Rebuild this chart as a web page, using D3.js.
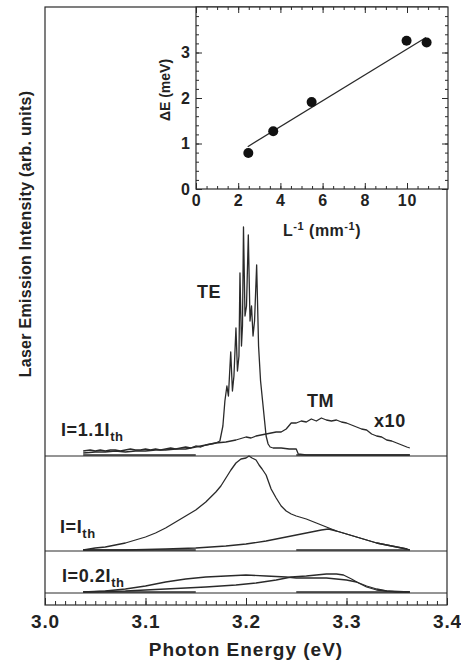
<!DOCTYPE html>
<html>
<head>
<meta charset="utf-8">
<script src="https://cdn.jsdelivr.net/npm/d3@7"></script>
<style>
  body { margin: 0; background: #fff; }
  svg text { font-family: 'Liberation Sans', Arial, sans-serif; font-weight: bold; fill: #222; }
</style>
</head>
<body>
<div id="chart"></div>
<script>
// ---- main panel data: [photon energy (eV), intensity above the trace's own zero] ----
const te11 = [
  [3.038, 5], [3.045, 6], [3.050, 5], [3.055, 6], [3.060, 5], [3.065, 6], [3.070, 6],
  [3.075, 5], [3.080, 6], [3.085, 7], [3.090, 6], [3.095, 6], [3.100, 7], [3.105, 6],
  [3.110, 7], [3.115, 6], [3.120, 7], [3.125, 8], [3.130, 7], [3.135, 8], [3.140, 9],
  [3.145, 8], [3.150, 10], [3.155, 9], [3.160, 11], [3.165, 12], [3.170, 13], [3.174, 15],
  [3.177, 30], [3.179, 55], [3.181, 70], [3.1825, 60], [3.1848, 104], [3.1865, 65],
  [3.188, 80], [3.190, 128], [3.1915, 85], [3.193, 100], [3.194, 183], [3.1955, 110],
  [3.1965, 130], [3.1975, 229], [3.199, 140], [3.2005, 150], [3.2023, 221], [3.204, 135],
  [3.2055, 150], [3.207, 120], [3.2085, 135], [3.2106, 191], [3.2125, 110], [3.2145, 75],
  [3.2165, 55], [3.2185, 35], [3.220, 20], [3.222, 12], [3.224, 9], [3.227, 8],
  [3.235, 8], [3.243, 7], [3.250, 7], [3.252, 2], [3.260, 1], [3.300, 1], [3.363, 1],
];
const tm11 = [
  [3.038, 3], [3.050, 4], [3.060, 4], [3.070, 5], [3.080, 4], [3.090, 5], [3.100, 5],
  [3.110, 6], [3.120, 6], [3.130, 7], [3.140, 7], [3.150, 9], [3.160, 11], [3.170, 13],
  [3.180, 14], [3.190, 16], [3.200, 19], [3.205, 18], [3.210, 20], [3.215, 21], [3.220, 22],
  [3.225, 23], [3.230, 24], [3.235, 24], [3.240, 27], [3.245, 33], [3.250, 33], [3.255, 35],
  [3.260, 34], [3.265, 37], [3.270, 35], [3.275, 38], [3.280, 36], [3.285, 35], [3.290, 36],
  [3.295, 34], [3.300, 33], [3.305, 31], [3.310, 29], [3.315, 27], [3.320, 26], [3.325, 22],
  [3.330, 20], [3.335, 19], [3.340, 16], [3.345, 15], [3.350, 13], [3.355, 11], [3.360, 9],
  [3.363, 8],
];
const te10 = [
  [3.038, 1], [3.050, 3], [3.060, 4], [3.070, 6], [3.080, 8], [3.090, 11], [3.100, 14],
  [3.110, 18], [3.120, 23], [3.130, 29], [3.140, 35], [3.150, 41], [3.160, 49], [3.170, 59],
  [3.175, 65], [3.180, 73], [3.185, 81], [3.190, 88], [3.195, 92], [3.200, 93], [3.203, 95],
  [3.206, 93], [3.210, 91], [3.213, 86], [3.216, 82], [3.220, 76], [3.225, 62], [3.230, 53],
  [3.235, 45], [3.240, 40], [3.245, 37], [3.250, 35], [3.260, 32], [3.270, 28], [3.280, 24],
  [3.290, 20], [3.300, 17], [3.310, 14], [3.320, 11], [3.330, 8], [3.340, 6], [3.350, 4],
  [3.360, 2], [3.363, 1],
];
const tm10 = [
  [3.038, 1], [3.080, 1], [3.120, 2], [3.150, 3], [3.180, 5], [3.200, 7], [3.220, 10],
  [3.240, 14], [3.255, 17], [3.265, 19], [3.275, 21], [3.282, 22], [3.290, 20], [3.300, 17],
  [3.310, 14], [3.320, 11], [3.330, 8], [3.340, 6], [3.350, 4], [3.360, 2], [3.363, 1],
];
const te02 = [
  [3.038, 1], [3.060, 2], [3.080, 4], [3.100, 7], [3.120, 11], [3.140, 14], [3.160, 16],
  [3.180, 17], [3.200, 18], [3.220, 17], [3.240, 16], [3.250, 15], [3.260, 15], [3.270, 15],
  [3.280, 15], [3.290, 14], [3.300, 13], [3.310, 11], [3.320, 7], [3.330, 4], [3.340, 2],
  [3.350, 1], [3.363, 1],
];
const tm02 = [
  [3.038, 1], [3.080, 2], [3.120, 4], [3.160, 6], [3.190, 8], [3.210, 10], [3.230, 13],
  [3.245, 16], [3.260, 17], [3.270, 18], [3.280, 19], [3.290, 19], [3.297, 18], [3.305, 14],
  [3.312, 10], [3.320, 6], [3.330, 3], [3.340, 2], [3.363, 1],
];
// zero-level stretches recorded with each trace
const zeroSegments = [[3.038, 3.150], [3.250, 3.363]];
// vertical offset of each current's traces
const offsets = { i02: 12, i10: 54, i11: 149 };
const energyTicks = [3.0, 3.1, 3.2, 3.3, 3.4];

// ---- inset data ----
const invLength = [2.48, 3.66, 5.48, 9.98, 10.93];
const deltaE = [0.79, 1.27, 1.91, 3.26, 3.22];
const fitLine = [[2.45, 0.93], [10.9, 3.33]];
const invLengthTicks = [0, 2, 4, 6, 8, 10];
const deltaETicks = [0, 1, 2, 3];

const W = 461;
const H = 665;
const ink = '#2a2a2a';

const svg = d3.select('#chart').append('svg')
  .attr('width', W)
  .attr('height', H);

// ---------- main panel ----------
const frame = { left: 45, right: 447, top: 7, bottom: 605 };

const x = d3.scaleLinear()
  .domain([3.0, 3.4])
  .range([frame.left, frame.right]);

const y = d3.scaleLinear()
  .domain([0, 598])
  .range([frame.bottom, frame.top]);

svg.append('rect')
  .attr('x', frame.left)
  .attr('y', frame.top)
  .attr('width', frame.right - frame.left)
  .attr('height', frame.bottom - frame.top)
  .style('fill', 'none')
  .style('stroke', ink)
  .style('stroke-width', 1.2);

// minor ticks every 0.01 eV
const xMinor = d3.axisBottom(x)
  .tickValues(d3.range(300, 341).map(v => v / 100))
  .tickSizeInner(-4)
  .tickSizeOuter(0)
  .tickFormat('');

const xMajor = d3.axisBottom(x)
  .tickValues(energyTicks)
  .tickSizeInner(-7)
  .tickSizeOuter(0)
  .tickPadding(10)
  .tickFormat(d3.format('.1f'));

svg.append('g')
  .attr('class', 'x minor')
  .attr('transform', `translate(0,${frame.bottom})`)
  .call(xMinor);

const xAx = svg.append('g')
  .attr('class', 'x axis')
  .attr('transform', `translate(0,${frame.bottom})`)
  .call(xMajor);

xAx.selectAll('text')
  .style('font-size', '19px')
  .style('letter-spacing', '0.8px')
  .style('fill', '#222');

svg.selectAll('.x path').remove();
svg.selectAll('.x line')
  .style('stroke', ink)
  .style('stroke-width', 1);

svg.append('text')
  .attr('x', (frame.left + frame.right) / 2)
  .attr('y', 656)
  .style('text-anchor', 'middle')
  .style('font-size', '19px')
  .style('letter-spacing', '1px')
  .text('Photon Energy (eV)');

svg.append('text')
  .attr('transform', 'rotate(-90)')
  .attr('x', -234)
  .attr('y', 31)
  .style('text-anchor', 'middle')
  .style('font-size', '16px')
  .style('letter-spacing', '0.3px')
  .text('Laser Emission Intensity (arb. units)');

// full-width zero lines
Object.values(offsets).forEach(off => {
  svg.append('line')
    .attr('x1', frame.left)
    .attr('x2', frame.right)
    .attr('y1', y(off))
    .attr('y2', y(off))
    .style('stroke', ink)
    .style('stroke-width', 1);
  zeroSegments.forEach(seg => {
    svg.append('line')
      .attr('x1', x(seg[0]))
      .attr('x2', x(seg[1]))
      .attr('y1', y(off) - 1)
      .attr('y2', y(off) - 1)
      .style('stroke', ink)
      .style('stroke-width', 1.4);
  });
});

const traces = [
  { id: 'te02', values: te02, off: offsets.i02 },
  { id: 'tm02', values: tm02, off: offsets.i02 },
  { id: 'te10', values: te10, off: offsets.i10 },
  { id: 'tm10', values: tm10, off: offsets.i10 },
  { id: 'tm11', values: tm11, off: offsets.i11 },
  { id: 'te11', values: te11, off: offsets.i11 },
];

svg.selectAll('.trace')
  .data(traces, d => d.id)
  .enter().append('path')
  .attr('class', 'trace')
  .attr('id', d => `trace${d.id}`)
  .attr('d', d => d3.line()
    .curve(d3.curveLinear)
    .x(p => x(p[0]))
    .y(p => y(p[1] + d.off))(d.values))
  .style('fill', 'none')
  .style('stroke', ink)
  .style('stroke-width', 1.3)
  .style('stroke-linejoin', 'round');

// labels on the traces
const label = (tx, ty, main, sub, size) => {
  const t = svg.append('text')
    .attr('x', tx)
    .attr('y', ty)
    .style('font-size', `${size}px`)
    .style('letter-spacing', '0.6px')
    .text(main);
  if (sub) {
    t.append('tspan')
      .attr('dy', 5)
      .style('font-size', `${size - 5}px`)
      .text(sub);
  }
};

label(197, 298, 'TE', null, 18);
label(307, 407, 'TM', null, 18);
label(374, 427, 'x10', null, 18);
label(61, 436, 'I=1.1I', 'th', 18);
label(60, 533, 'I=I', 'th', 18);
label(62, 582, 'I=0.2I', 'th', 18);

// ---------- inset ----------
const inset = { left: 196, right: 448, top: 7, bottom: 189 };

const ix = d3.scaleLinear()
  .domain([0, 12])
  .range([inset.left, inset.left + 12 * 21.1]);

const iy = d3.scaleLinear()
  .domain([0, 4])
  .range([inset.bottom, inset.top]);

const g = svg.append('g').attr('class', 'inset');

g.append('rect')
  .attr('x', inset.left)
  .attr('y', inset.top)
  .attr('width', inset.right - inset.left)
  .attr('height', inset.bottom - inset.top)
  .style('fill', '#fff')
  .style('stroke', ink)
  .style('stroke-width', 1.2);

const ixMinor = d3.range(0, 24).map(v => v / 2);
const iyMinor = d3.range(0, 20).map(v => v / 5);

// bottom
g.append('g')
  .attr('class', 'ia')
  .attr('transform', `translate(0,${inset.bottom})`)
  .call(d3.axisBottom(ix).tickValues(ixMinor).tickSizeInner(-3).tickSizeOuter(0).tickFormat(''));
const ixAx = g.append('g')
  .attr('class', 'ia')
  .attr('transform', `translate(0,${inset.bottom})`)
  .call(d3.axisBottom(ix).tickValues(invLengthTicks).tickSizeInner(-6).tickSizeOuter(0)
    .tickPadding(6).tickFormat(d3.format('d')));
// top
g.append('g')
  .attr('class', 'ia')
  .attr('transform', `translate(0,${inset.top})`)
  .call(d3.axisTop(ix).tickValues(ixMinor).tickSizeInner(-3).tickSizeOuter(0).tickFormat(''));
g.append('g')
  .attr('class', 'ia')
  .attr('transform', `translate(0,${inset.top})`)
  .call(d3.axisTop(ix).tickValues(invLengthTicks).tickSizeInner(-6).tickSizeOuter(0).tickFormat(''));
// left
g.append('g')
  .attr('class', 'ia')
  .attr('transform', `translate(${inset.left},0)`)
  .call(d3.axisLeft(iy).tickValues(iyMinor).tickSizeInner(-3).tickSizeOuter(0).tickFormat(''));
const iyAx = g.append('g')
  .attr('class', 'ia')
  .attr('transform', `translate(${inset.left},0)`)
  .call(d3.axisLeft(iy).tickValues(deltaETicks).tickSizeInner(-6).tickSizeOuter(0)
    .tickPadding(6).tickFormat(d3.format('d')));
// right
g.append('g')
  .attr('class', 'ia')
  .attr('transform', `translate(${inset.right},0)`)
  .call(d3.axisRight(iy).tickValues(iyMinor).tickSizeInner(-3).tickSizeOuter(0).tickFormat(''));
g.append('g')
  .attr('class', 'ia')
  .attr('transform', `translate(${inset.right},0)`)
  .call(d3.axisRight(iy).tickValues(deltaETicks).tickSizeInner(-6).tickSizeOuter(0).tickFormat(''));

g.selectAll('.ia path').remove();
g.selectAll('.ia line')
  .style('stroke', ink)
  .style('stroke-width', 1);

ixAx.selectAll('text')
  .style('font-size', '16px')
  .style('letter-spacing', '0.8px')
  .style('fill', '#222');
iyAx.selectAll('text')
  .style('font-size', '16px')
  .style('fill', '#222');

// axis titles
g.append('text')
  .attr('transform', 'rotate(-90)')
  .attr('x', -(inset.top + inset.bottom) / 2 + 8)
  .attr('y', 170)
  .style('text-anchor', 'middle')
  .style('font-size', '14px')
  .text('ΔE (meV)');

const lt = g.append('text')
  .attr('x', 322)
  .attr('y', 236)
  .style('text-anchor', 'middle')
  .style('font-size', '16px')
  .style('letter-spacing', '0.5px');
lt.append('tspan').text('L');
lt.append('tspan').attr('dy', -6).style('font-size', '11px').text('-1');
lt.append('tspan').attr('dy', 6).text(' (mm');
lt.append('tspan').attr('dy', -6).style('font-size', '11px').text('-1');
lt.append('tspan').attr('dy', 6).text(')');

g.append('path')
  .attr('d', d3.line().x(d => ix(d[0])).y(d => iy(d[1]))(fitLine))
  .style('fill', 'none')
  .style('stroke', ink)
  .style('stroke-width', 1.3);

g.selectAll('.dot')
  .data(invLength.map((v, i) => ({ x: v, y: deltaE[i] })))
  .enter().append('circle')
  .attr('class', 'dot')
  .attr('cx', d => ix(d.x))
  .attr('cy', d => iy(d.y))
  .attr('r', 5)
  .style('fill', '#111');
</script>
</body>
</html>
